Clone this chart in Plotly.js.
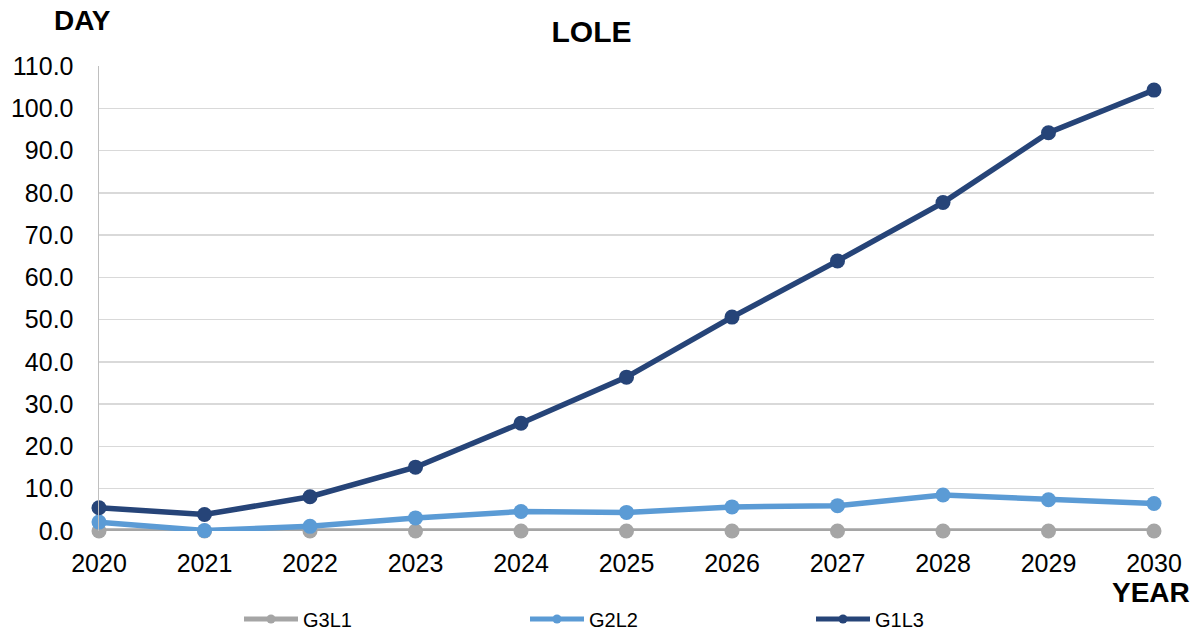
<!DOCTYPE html>
<html>
<head>
<meta charset="utf-8">
<script src="https://cdn.plot.ly/plotly-3.0.1.min.js"></script>
<style>
  html, body { margin: 0; padding: 0; background: #ffffff; }
  #chart { width: 1197px; height: 634px; }
</style>
</head>
<body>
<div id="chart"></div>
<script>
// Loss of load expectation (days) per year for three scenarios
const years = ['2020', '2021', '2022', '2023', '2024', '2025', '2026', '2027', '2028', '2029', '2030'];
const g3l1 = [0.0, 0.0, 0.0, 0.0, 0.0, 0.0, 0.0, 0.0, 0.0, 0.0, 0.0];
const g2l2 = [2.1, 0.1, 1.1, 3.1, 4.6, 4.4, 5.7, 6.0, 8.5, 7.4, 6.5];
const g1l3 = [5.5, 3.9, 8.1, 15.1, 25.5, 36.4, 50.6, 63.9, 77.7, 94.2, 104.3];
const yTicks = [0, 10, 20, 30, 40, 50, 60, 70, 80, 90, 100, 110];

const seriesNames = ['G3L1', 'G2L2', 'G1L3'];
const seriesValues = [g3l1, g2l2, g1l3];
const seriesColors = ['#A5A5A5', '#5B9BD5', '#264478'];

// Data lines (legend entries are drawn separately with smaller symbols)
const dataTraces = seriesValues.map((vals, i) => ({
  type: 'scatter',
  mode: 'lines+markers',
  name: seriesNames[i],
  x: years,
  y: vals,
  line: { color: seriesColors[i], width: 5.5 },
  marker: { color: seriesColors[i], size: 15 },
  cliponaxis: false,
  showlegend: false
}));

const legendTraces = seriesNames.map((name, i) => ({
  type: 'scatter',
  mode: 'lines+markers',
  name: name,
  x: [null],
  y: [null],
  line: { color: seriesColors[i], width: 5 },
  marker: { color: seriesColors[i], size: 9 },
  showlegend: true
}));

const font = { family: 'Liberation Sans, Arial, sans-serif', color: '#000000' };

const layout = {
  width: 1197,
  height: 634,
  margin: { l: 99, r: 43, t: 66, b: 103 },
  paper_bgcolor: '#ffffff',
  plot_bgcolor: '#ffffff',
  font: Object.assign({ size: 25 }, font),
  showlegend: true,
  title: {
    text: '<b>LOLE</b>',
    font: Object.assign({ size: 30 }, font),
    x: 591.5 / 1197, xanchor: 'center',
    y: 1 - 31 / 634, yanchor: 'middle'
  },
  xaxis: {
    type: 'category',
    range: [0, 10],
    showgrid: false,
    zeroline: false,
    showline: false,
    ticks: '',
    ticklabelstandoff: 15,
    tickfont: Object.assign({ size: 25 }, font),
    automargin: false,
    fixedrange: true
  },
  yaxis: {
    range: [0, 110],
    tickvals: yTicks,
    ticktext: yTicks.map(v => v.toFixed(1)),
    showgrid: true,
    gridcolor: '#D9D9D9',
    gridwidth: 1.5,
    zeroline: false,
    showline: true,
    linecolor: '#BFBFBF',
    linewidth: 1.5,
    ticks: '',
    ticklabelstandoff: 19,
    tickfont: Object.assign({ size: 25 }, font),
    automargin: false,
    fixedrange: true
  },
  legend: {
    orientation: 'h',
    xref: 'container',
    yref: 'container',
    x: 239 / 1197,
    xanchor: 'left',
    y: (634 - 619) / 634,
    yanchor: 'middle',
    itemwidth: 54,
    entrywidth: 217,
    entrywidthmode: 'pixels',
    font: Object.assign({ size: 20 }, font),
    bgcolor: 'rgba(0,0,0,0)'
  },
  annotations: [
    {
      text: '<b>DAY</b>',
      xref: 'paper', yref: 'paper',
      x: (82 - 99) / 1055, y: 1 + (66 - 20) / 465,
      xanchor: 'center', yanchor: 'middle',
      showarrow: false,
      font: Object.assign({ size: 28 }, font)
    },
    {
      text: '<b>YEAR</b>',
      xref: 'paper', yref: 'paper',
      x: (1151 - 99) / 1055, y: -(592 - 531) / 465,
      xanchor: 'center', yanchor: 'middle',
      showarrow: false,
      font: Object.assign({ size: 28 }, font)
    }
  ]
};

Plotly.newPlot('chart', dataTraces.concat(legendTraces), layout, { displayModeBar: false, staticPlot: true });
</script>
</body>
</html>
